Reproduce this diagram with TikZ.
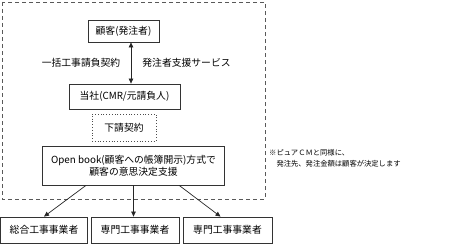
\documentclass[tikz,border=0pt]{standalone}
\usepackage{fontspec}
\setmainfont{Noto Sans CJK JP}
\usetikzlibrary{arrows.meta,calc}
\tikzset{
  boxst/.style={draw=black!80,line width=0.8pt,inner sep=0pt,font=\fontsize{9.8}{12}\selectfont},
  arr/.style={line width=0.7pt,draw=black!85,-{Triangle[length=5pt,width=4.5pt]}},
  lbl/.style={font=\fontsize{9.8}{12}\selectfont,inner sep=0pt}
}
\begin{document}
\begin{tikzpicture}[x=1pt,y=-1pt]
\useasboundingbox (0,0) rectangle (462,246);
\draw[dashed,dash pattern=on 4pt off 3pt,line width=0.8pt,draw=black!65] (2,2) rectangle (265,199);
\node[boxst,minimum width=71pt,minimum height=22pt] (kokyaku) at (123.5,31) {顧客(発注者)};
\node[boxst,minimum width=111pt,minimum height=25pt] (tousha) at (124.5,96.5) {当社(CMR/元請負人)};
\node[boxst,draw=black!70,dotted,line width=0.9pt,minimum width=64pt,minimum height=27pt] (shita) at (124,127.5) {下請契約};
\node[boxst,minimum width=182pt,minimum height=39pt,align=center] (open) at (133.5,165.5) {Open book(顧客への帳簿開示)方式で\\顧客の意思決定支援};
\node[boxst,minimum width=87pt,minimum height=26pt] (b1) at (44,230) {総合工事事業者};
\node[boxst,minimum width=88pt,minimum height=26pt] (b2) at (135,230) {専門工事事業者};
\node[boxst,minimum width=89pt,minimum height=26pt] (b3) at (227.5,230) {専門工事事業者};
\coordinate (ax) at (131,60);
\draw[arr,{Triangle[length=5pt,width=4.5pt]}-{Triangle[length=5pt,width=4.5pt]}] (kokyaku.south -| ax) -- (tousha.north -| ax);
\node[lbl] (l1) at (81,63) {一括工事請負契約};
\node[lbl] (l2) at (186.5,63) {発注者支援サービス};
\draw[arr] ($(open.south west)!0.24!(open.south east)$) -- (b1.north);
\draw[arr] (open.south) -- (open.south |- b2.north);
\draw[arr] ($(open.south west)!0.75!(open.south east)$) -- ($(b3.north)+(-7,0)$);
\node[anchor=north west,align=left,inner sep=0pt,font=\fontsize{7.3}{11}\selectfont] (note) at (269,149) {※ピュアＣＭと同様に、\\　発注先、発注金額は顧客が決定します};
\end{tikzpicture}
\end{document}
